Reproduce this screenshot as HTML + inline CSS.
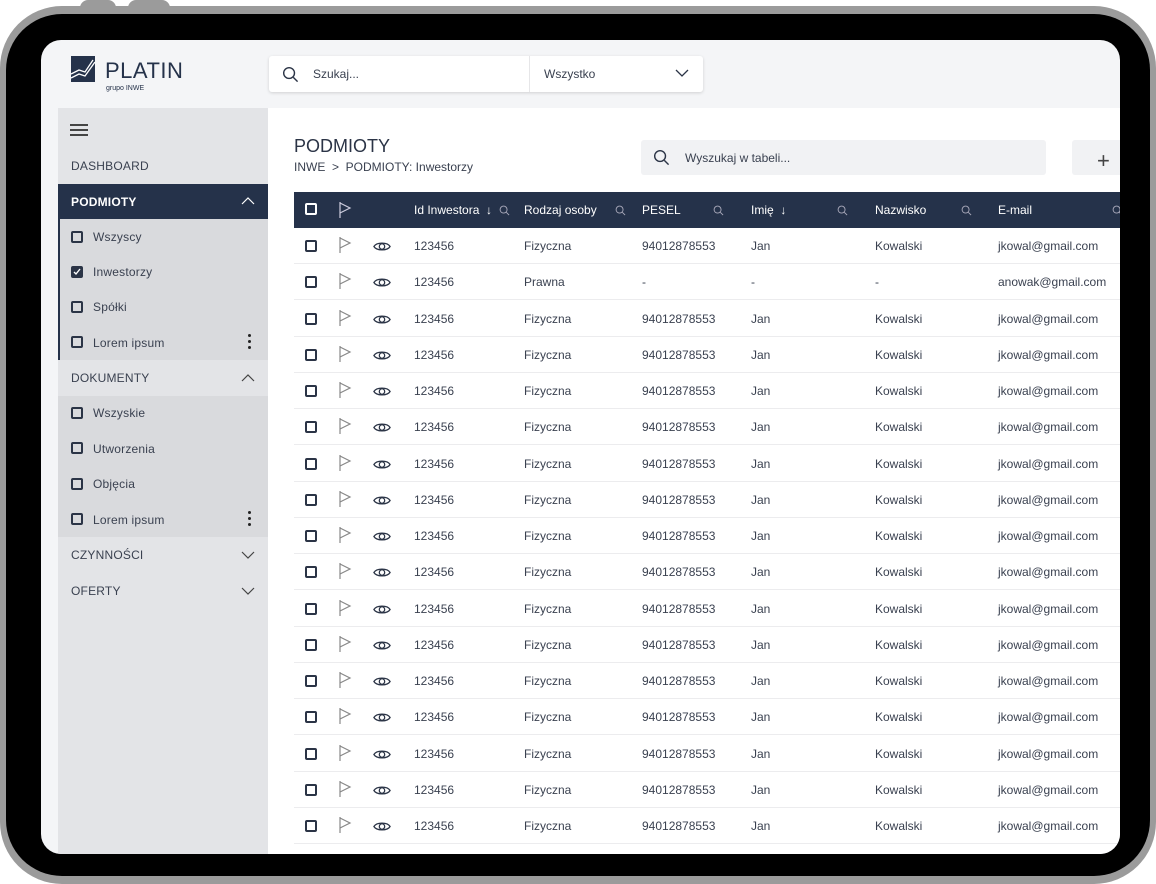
<!DOCTYPE html>
<html><head><meta charset="utf-8"><style>
*{box-sizing:border-box;margin:0;padding:0}
body{width:1156px;height:884px;background:#fff;position:relative;overflow:hidden;font-family:"Liberation Sans",sans-serif;color:#2b3446}
.a{position:absolute}
.frame{left:0;top:6px;width:1156px;height:878px;background:#9b9b9b;border-radius:62px}
.bump{top:0;height:10px;background:#9b9b9b;border-radius:8px 8px 0 0}
.black{left:6px;top:14px;width:1144px;height:862px;background:#000;border-radius:56px}
.screen{left:41px;top:40px;width:1079px;height:814px;background:#f4f5f7;border-radius:20px;overflow:hidden}
.side{left:17px;top:68px;width:210px;height:760px;background:#e3e4e7}
.main{left:227px;top:68px;width:900px;height:760px;background:#fff}
.t{font-size:12px;color:#3a4150;white-space:nowrap}
.st{font-size:12px;color:#3a4150;letter-spacing:.2px}
.cb{width:12px;height:12px;border:2px solid #2b3446;border-radius:2px}
.row{left:0;width:900px;height:36px;border-bottom:1px solid #ececee}
</style></head><body>
<svg width="0" height="0" style="position:absolute"><defs>
<symbol id="flag" viewBox="0 0 14 18"><path d="M2 1v16M2 2l10 5-10 5" fill="none" stroke="currentColor" stroke-width="1.2"/></symbol>
<symbol id="eye" viewBox="0 0 20 14"><path d="M1 7C4 2 16 2 19 7C16 12 4 12 1 7Z" fill="none" stroke="currentColor" stroke-width="1.4"/><circle cx="10" cy="7" r="3" fill="none" stroke="currentColor" stroke-width="1.4"/></symbol>
<symbol id="mag" viewBox="0 0 12 12"><circle cx="5" cy="5" r="3.8" fill="none" stroke="currentColor" stroke-width="1"/><path d="M8 8l3 3" stroke="currentColor" stroke-width="1"/></symbol>
</defs></svg>
<div class="a bump" style="left:80px;width:36px"></div>
<div class="a bump" style="left:128px;width:42px"></div>
<div class="a frame"></div>
<div class="a black"></div>
<div class="a screen">
 <!-- logo -->
 <div class="a" style="left:30px;top:16px;width:24px;height:26px;background:#25324a"></div>
 <svg class="a" style="left:30px;top:16px" width="24" height="26"><path d="M0 18l8-4 6 2 8-12M0 22l8-4 6 2 10-14" stroke="#fff" stroke-width="1.3" fill="none"/></svg>
 <div class="a" style="left:64px;top:18px;font-size:22px;color:#25324a;letter-spacing:.5px">PLATIN</div>
 <div class="a" style="left:65px;top:45px;font-size:7px;color:#25324a">grupo INWE</div>
 <!-- top search -->
 <div class="a" style="left:228px;top:16px;width:434px;height:36px;background:#fff;border-radius:3px;box-shadow:0 1px 3px rgba(0,0,0,.15)"></div>
 <svg class="a" style="left:241px;top:26px;color:#2b3446" width="17" height="17"><use href="#mag"/></svg>
 <div class="a t" style="left:272px;top:27px">Szukaj...</div>
 <div class="a" style="left:488px;top:16px;width:1px;height:36px;background:#e6e6e8"></div>
 <div class="a t" style="left:503px;top:27px">Wszystko</div>
 <svg class="a" style="left:634px;top:29px" width="14" height="9"><path d="M1 1l6 6 6-6" stroke="#2b3446" fill="none" stroke-width="1.3"/></svg>
 <!-- sidebar -->
 <div class="a side">
  <div class="a" style="left:12px;top:16px;width:18px;height:1.5px;background:#444;box-shadow:0 5px 0 #444,0 10px 0 #444"></div>
  <div class="a st" style="left:13px;top:51px">DASHBOARD</div>
  <div class="a" style="left:0;top:76px;width:210px;height:35px;background:#25324a"></div>
  <div class="a st" style="left:13px;top:87px;color:#fff;font-weight:bold">PODMIOTY</div>
  <svg class="a" style="left:183px;top:89px" width="14" height="8"><path d="M1 7l6-6 6 6" stroke="#fff" fill="none" stroke-width="1.2"/></svg>
  <div class="a" style="left:0;top:111px;width:210px;height:141px;background:#d9dadd;border-left:2px solid #25324a"></div>
  <div class="a cb" style="left:13px;top:123px"></div><div class="a st" style="left:35px;top:122px">Wszyscy</div>
  <div class="a cb" style="left:13px;top:158px;background:#2b3446"></div>
  <svg class="a" style="left:15px;top:160px" width="8" height="8"><path d="M1 4l2 2 4-5" stroke="#fff" fill="none" stroke-width="1.4"/></svg>
  <div class="a st" style="left:35px;top:157px">Inwestorzy</div>
  <div class="a cb" style="left:13px;top:193px"></div><div class="a st" style="left:35px;top:192px">Spółki</div>
  <div class="a cb" style="left:13px;top:228px"></div><div class="a st" style="left:35px;top:228px">Lorem ipsum</div>
  <div class="a" style="left:190px;top:226px;width:3px;height:3px;background:#222;border-radius:50%;box-shadow:0 6px 0 #222,0 12px 0 #222"></div>
  <div class="a st" style="left:13px;top:263px">DOKUMENTY</div>
  <svg class="a" style="left:183px;top:266px" width="14" height="8"><path d="M1 7l6-6 6 6" stroke="#444" fill="none" stroke-width="1.2"/></svg>
  <div class="a" style="left:0;top:288px;width:210px;height:141px;background:#d9dadd"></div>
  <div class="a cb" style="left:13px;top:299px"></div><div class="a st" style="left:35px;top:298px">Wszyskie</div>
  <div class="a cb" style="left:13px;top:334px"></div><div class="a st" style="left:35px;top:334px">Utworzenia</div>
  <div class="a cb" style="left:13px;top:370px"></div><div class="a st" style="left:35px;top:369px">Objęcia</div>
  <div class="a cb" style="left:13px;top:405px"></div><div class="a st" style="left:35px;top:405px">Lorem ipsum</div>
  <div class="a" style="left:190px;top:403px;width:3px;height:3px;background:#222;border-radius:50%;box-shadow:0 6px 0 #222,0 12px 0 #222"></div>
  <div class="a st" style="left:13px;top:440px">CZYNNOŚCI</div>
  <svg class="a" style="left:183px;top:443px" width="14" height="8"><path d="M1 1l6 6 6-6" stroke="#444" fill="none" stroke-width="1.2"/></svg>
  <div class="a st" style="left:13px;top:476px">OFERTY</div>
  <svg class="a" style="left:183px;top:479px" width="14" height="8"><path d="M1 1l6 6 6-6" stroke="#444" fill="none" stroke-width="1.2"/></svg>
 </div>
 <!-- main -->
 <div class="a main">
  <div class="a" style="left:26px;top:28px;font-size:18px;color:#2b3446">PODMIOTY</div>
  <div class="a t" style="left:26px;top:52px">INWE &nbsp;&gt;&nbsp; PODMIOTY: Inwestorzy</div>
  <div class="a" style="left:373px;top:32px;width:405px;height:35px;background:#f1f2f4;border-radius:3px"></div>
  <svg class="a" style="left:385px;top:41px;color:#2b3446" width="17" height="17"><use href="#mag"/></svg>
  <div class="a t" style="left:417px;top:43px">Wyszukaj w tabeli...</div>
  <div class="a" style="left:804px;top:32px;width:60px;height:35px;background:#f1f2f4;border-radius:3px"></div>
  <div class="a" style="left:829px;top:40px;font-size:22px;color:#444;font-weight:300">+</div>
  <div class="a" style="left:26px;top:84px;width:900px;height:36px;background:#25324a"></div>
  <div id="hdr" class="a" style="left:26px;top:84px;width:900px;height:36px;color:#fff">
   <div class="a cb" style="left:11px;top:11px;border-color:#fff"></div>
   <svg class="a" style="left:44px;top:9px;color:#ccd" width="14" height="18"><use href="#flag"/></svg>
   <div class="a t" style="left:120px;top:11px;color:#fff">Id Inwestora &nbsp;↓</div>
   <svg class="a" style="left:205px;top:13px;color:#aab" width="11" height="11"><use href="#mag"/></svg>
   <div class="a t" style="left:230px;top:11px;color:#fff">Rodzaj osoby</div>
   <svg class="a" style="left:321px;top:13px;color:#aab" width="11" height="11"><use href="#mag"/></svg>
   <div class="a t" style="left:348px;top:11px;color:#fff">PESEL</div>
   <svg class="a" style="left:419px;top:13px;color:#aab" width="11" height="11"><use href="#mag"/></svg>
   <div class="a t" style="left:457px;top:11px;color:#fff">Imię &nbsp;↓</div>
   <svg class="a" style="left:543px;top:13px;color:#aab" width="11" height="11"><use href="#mag"/></svg>
   <div class="a t" style="left:581px;top:11px;color:#fff">Nazwisko</div>
   <svg class="a" style="left:667px;top:13px;color:#aab" width="11" height="11"><use href="#mag"/></svg>
   <div class="a t" style="left:704px;top:11px;color:#fff">E-mail</div>
   <svg class="a" style="left:818px;top:13px;color:#aab" width="11" height="11"><use href="#mag"/></svg>
  </div>
  <div id="rows" class="a" style="left:26px;top:120px;width:900px;height:650px"></div>
 </div>
</div>
<script>
var h='';
for(var i=0;i<17;i++){
 var y=(i*36.25).toFixed(1);
 var p=i==1;
 h+='<div class="a row" style="top:'+y+'px">'+
 '<div class="a cb" style="left:11px;top:12px"></div>'+
 '<svg class="a" style="left:44px;top:8px;color:#888" width="14" height="18"><use href="#flag"/></svg>'+
 '<svg class="a" style="left:79px;top:12px;color:#2b3446" width="18" height="13"><use href="#eye"/></svg>'+
 '<div class="a t" style="left:120px;top:11px">123456</div>'+
 '<div class="a t" style="left:230px;top:11px">'+(p?'Prawna':'Fizyczna')+'</div>'+
 '<div class="a t" style="left:348px;top:11px">'+(p?'-':'94012878553')+'</div>'+
 '<div class="a t" style="left:457px;top:11px">'+(p?'-':'Jan')+'</div>'+
 '<div class="a t" style="left:581px;top:11px">'+(p?'-':'Kowalski')+'</div>'+
 '<div class="a t" style="left:704px;top:11px">'+(p?'anowak@gmail.com':'jkowal@gmail.com')+'</div></div>';
}
document.getElementById('rows').innerHTML=h;
</script>
</body></html>
